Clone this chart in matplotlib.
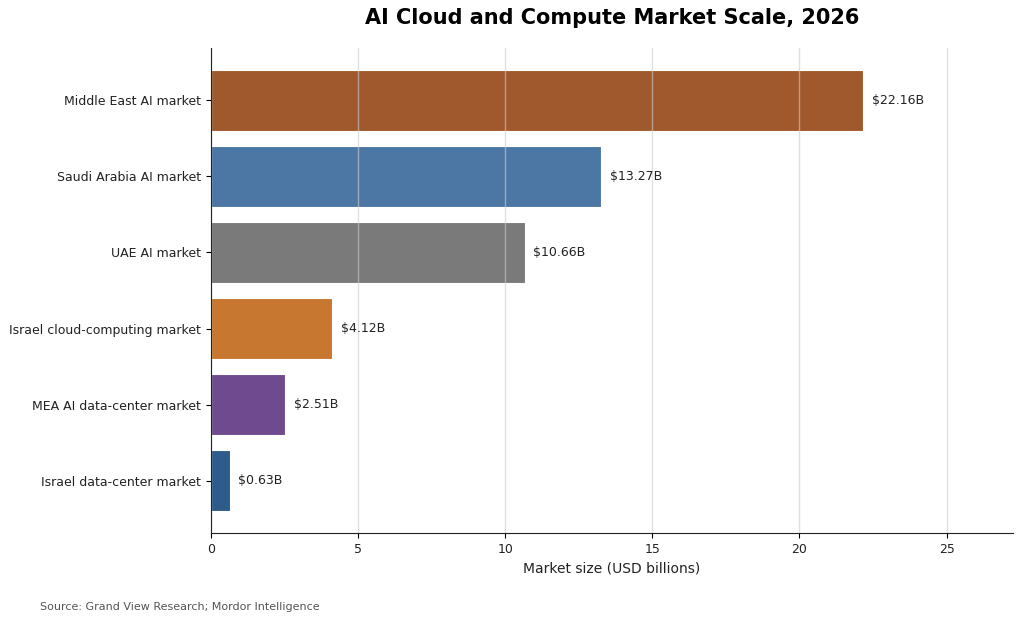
import matplotlib
matplotlib.use('Agg')
import matplotlib.pyplot as plt

# data (top to bottom as shown)
labels = ['Middle East AI market', 'Saudi Arabia AI market', 'UAE AI market',
          'Israel cloud-computing market', 'MEA AI data-center market',
          'Israel data-center market']
values = [22.16, 13.27, 10.66, 4.12, 2.51, 0.63]
colors = ['#A0592D', '#4C77A5', '#7A7A7A', '#C87731', '#6F4A8E', '#2E5C8A']

fig = plt.figure(figsize=(10.24, 6.24), dpi=100)
ax = fig.add_axes([211/1024, 1-533/624, (1013-211)/1024, (533-48)/624])

y = list(range(len(labels)))[::-1]
bars = ax.barh(y, values, height=0.8, color=colors, edgecolor='white', linewidth=0.8, zorder=2)
ax.set_yticks(y)
ax.set_yticklabels(labels, fontsize=9, color='#222222')
ax.tick_params(axis='x', labelsize=9, labelcolor='#222222')

for b, v in zip(bars, values):
    ax.text(v + 0.3, b.get_y() + b.get_height()/2, '${:.2f}B'.format(v),
            va='center', ha='left', fontsize=9, color='#222222')

ax.set_xlim(0, max(values) * 1.23)
ax.set_xticks([0, 5, 10, 15, 20, 25])
ax.grid(axis='x', color='#cccccc', alpha=0.6, linewidth=1, zorder=3)
ax.set_axisbelow(False)
ax.spines['top'].set_visible(False)
ax.spines['right'].set_visible(False)
for s in ('left', 'bottom'):
    ax.spines[s].set_zorder(5)
    ax.spines[s].set_color('#222222')
ax.set_xlabel('Market size (USD billions)', fontsize=10, color='#222222')

fig.text(612/1024, 1-18/624, 'AI Cloud and Compute Market Scale, 2026',
         ha='center', va='center', fontsize=15, fontweight='bold')
fig.text(40/1024, 1-607/624, 'Source: Grand View Research; Mordor Intelligence',
         ha='left', va='center', fontsize=8, color='#555555')

fig.savefig('out.png', dpi=100)
